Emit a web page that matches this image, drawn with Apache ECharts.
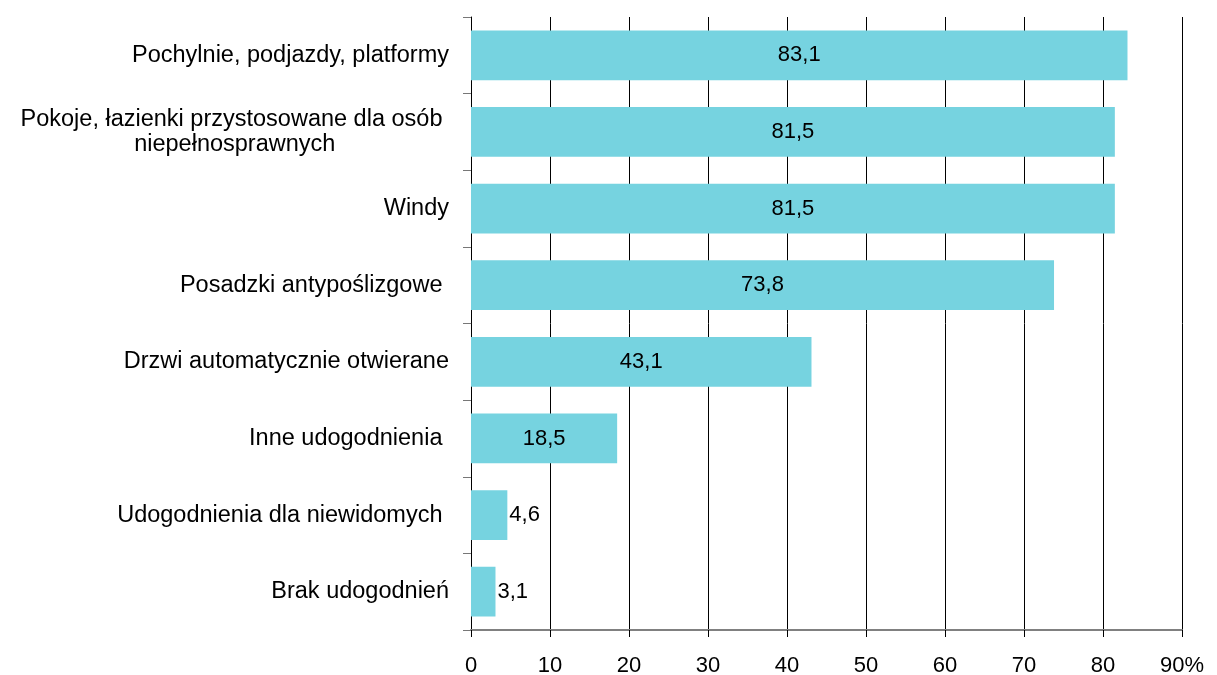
<!DOCTYPE html>
<html><head><meta charset="utf-8">
<script src="https://cdn.jsdelivr.net/npm/echarts@6/dist/echarts.min.js"></script>
<style>html,body{margin:0;padding:0;background:#fff}#c{width:1217px;height:675px}</style>
</head><body><div id="c"></div>
<script>
const categories = [
  'Pochylnie, podjazdy, platformy',
  'Pokoje, łazienki przystosowane dla osób \nniepełnosprawnych',
  'Windy',
  'Posadzki antypoślizgowe ',
  'Drzwi automatycznie otwierane',
  'Inne udogodnienia ',
  'Udogodnienia dla niewidomych ',
  'Brak udogodnień'
];
const values = [83.1, 81.5, 81.5, 73.8, 43.1, 18.5, 4.6, 3.1];
const xTicks = [0, 10, 20, 30, 40, 50, 60, 70, 80, 90];

const chart = echarts.init(document.getElementById('c'), null, {renderer: 'canvas'});
const font = 'Liberation Sans, Arial, sans-serif';
const fs = 22;
const cfs = 23.5;
chart.setOption({
  animation: false,
  grid: {left: 471, right: 35, top: 17, bottom: 45, containLabel: false, outerBoundsMode: 'none'},
  xAxis: {
    type: 'value', min: 0, max: 90, interval: 10,
    axisLine: {show: true, lineStyle: {color: '#808080', width: 2}},
    axisTick: {show: true, length: 7, lineStyle: {color: '#000'}},
    splitLine: {show: true, lineStyle: {color: '#000', width: 1}},
    axisLabel: {
      color: '#000', fontSize: fs, fontFamily: font, margin: 25,
      formatter: v => v === 90 ? '90%' : String(v)
    }
  },
  yAxis: {
    type: 'category', data: categories, inverse: true,
    axisLine: {show: true, lineStyle: {color: '#000', width: 1}},
    axisTick: {show: true, length: 8, lineStyle: {color: '#777'}},
    axisLabel: {
      color: '#000', fontSize: cfs, fontFamily: font, margin: 22, lineHeight: 25,
      formatter: v => v.indexOf('\n') >= 0
        ? v.split('\n').map(s => '{c|' + s + '}').join('\n') : v,
      rich: {c: {align: 'center', fontSize: cfs, fontFamily: font, color: '#000', lineHeight: 25}}
    }
  },
  series: [{
    type: 'bar', barCategoryGap: '35%',
    itemStyle: {color: '#76D3E0'},
    label: {
      show: true, fontSize: fs, fontFamily: font, color: '#000',
      position: 'inside',
      formatter: p => String(p.value).replace('.', ',')
    },
    data: values.map(v => v < 10 ? {value: v, label: {position: 'right', distance: 2}} : v)
  }]
});
</script></body></html>
